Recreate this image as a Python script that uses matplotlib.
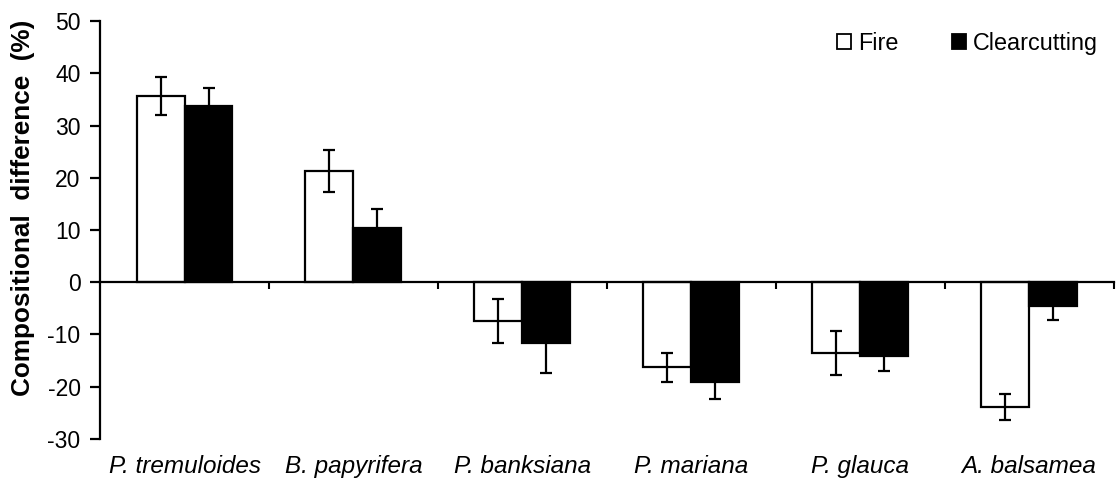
import matplotlib
matplotlib.use('Agg')
import matplotlib.pyplot as plt
from matplotlib.patches import Patch
import numpy as np

plt.rcParams['font.family'] = ['Liberation Sans', 'DejaVu Sans']
plt.rcParams['axes.unicode_minus'] = False

# data
species = ["P. tremuloides", "B. papyrifera", "P. banksiana",
           "P. mariana", "P. glauca", "A. balsamea"]
fire = [35.6, 21.3, -7.4, -16.3, -13.5, -23.9]
fire_err = [3.6, 4.1, 4.2, 2.8, 4.2, 2.5]
clear = [33.8, 10.3, -11.6, -19.0, -14.2, -4.6]
clear_err = [3.3, 3.8, 5.7, 3.4, 2.7, 2.7]

x = np.arange(len(species))
w = 0.284

fig = plt.figure(figsize=(11.18, 5.01), dpi=100)
ax = fig.add_axes([0.0895, 0.1238, 0.9065, 0.8342])

ax.bar(x - w/2, fire, w, color='white', edgecolor='black', linewidth=1.6, zorder=2)
ax.bar(x + w/2, clear, w, color='black', edgecolor='black', linewidth=1.6, zorder=2)
ax.errorbar(x - w/2, fire, yerr=fire_err, fmt='none', ecolor='black',
            elinewidth=1.6, capsize=4, capthick=1.6, zorder=3)
ax.errorbar(x + w/2, clear, yerr=clear_err, fmt='none', ecolor='black',
            elinewidth=1.6, capsize=4, capthick=1.6, zorder=3)

ax.set_xlim(-0.5, len(species) - 0.5)
ax.set_ylim(-30, 50)
ax.set_yticks(range(-30, 51, 10))

# spines: left axis, and x axis at zero
ax.spines['top'].set_visible(False)
ax.spines['right'].set_visible(False)
ax.spines['bottom'].set_position(('data', 0))
ax.spines['left'].set_linewidth(1.6)
ax.spines['bottom'].set_linewidth(1.6)

ax.set_xticks(np.arange(0.5, len(species), 1.0))
ax.set_xticklabels([])
ax.tick_params(axis='x', direction='out', length=5, width=1.5)
ax.tick_params(axis='y', direction='out', length=7, width=1.6, labelsize=16.5, pad=7)

# species names below the plot
for xi, name in zip(x, species):
    ax.text(xi, -0.067, name, transform=ax.get_xaxis_transform(),
            ha='center', va='center', fontsize=17.5, style='italic')

fig.text(0.021, 0.585, "Compositional  difference  (%)", rotation=90,
         ha='center', va='center', fontsize=18.8, fontweight='bold')

# legend
handles = [Patch(facecolor='white', edgecolor='black', linewidth=1.3, label='Fire'),
           Patch(facecolor='black', edgecolor='black', linewidth=1.3, label='Clearcutting')]
fig.legend(handles=handles, loc='upper right', bbox_to_anchor=(0.982, 0.936), ncol=2,
           frameon=False, fontsize=16.8, handlelength=0.6, handleheight=0.6,
           handletextpad=0.3, columnspacing=2.3, borderpad=0, borderaxespad=0)

fig.savefig("out.png", dpi=100)
